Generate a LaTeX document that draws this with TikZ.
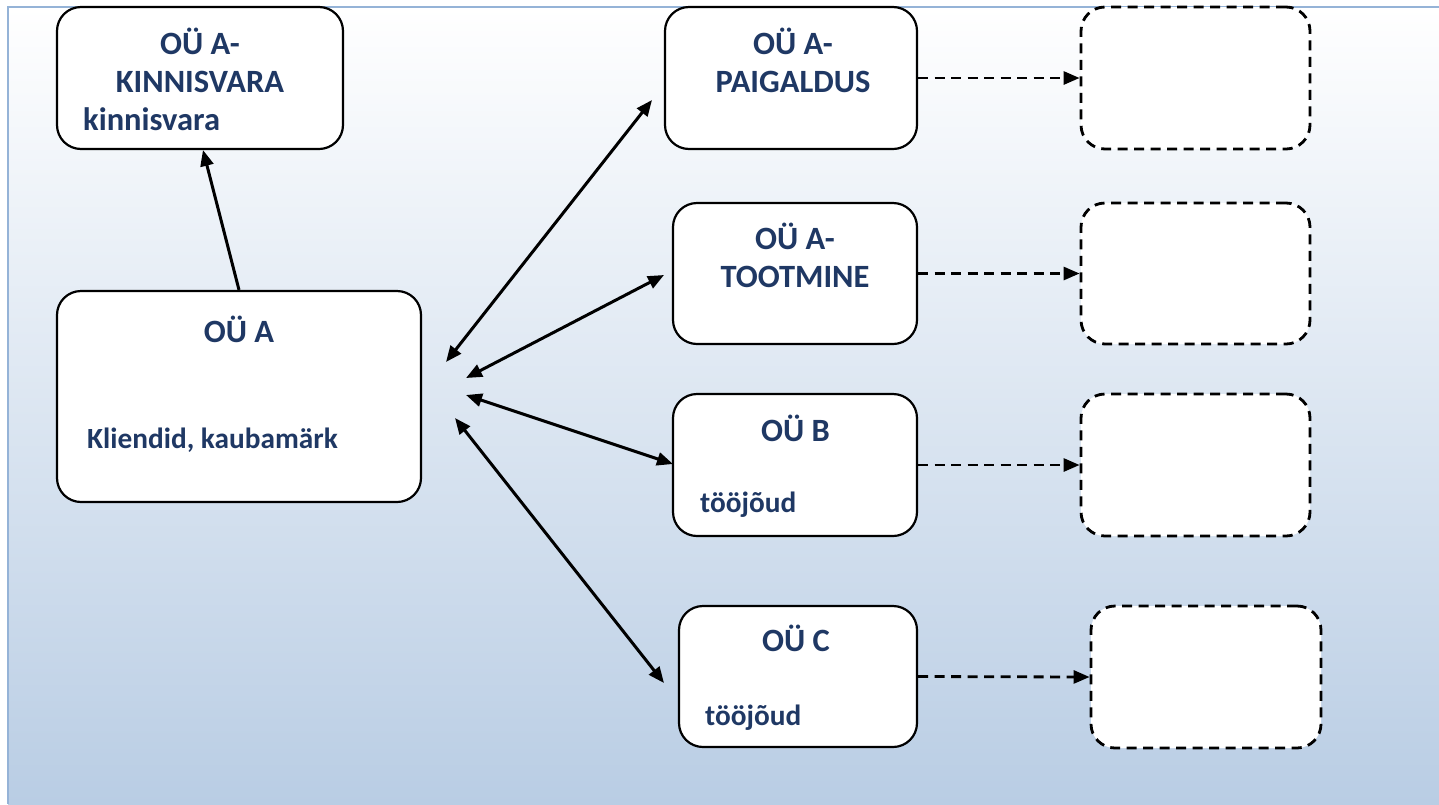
\documentclass[tikz,border=0pt]{standalone}
\usepackage{fontspec}
\setmainfont{Carlito}
\usetikzlibrary{arrows.meta}
\definecolor{txt}{RGB}{31,56,100}
\definecolor{bgbottom}{RGB}{185,205,228}
\definecolor{frame}{RGB}{149,179,215}
\tikzset{
  x=1pt, y=-1pt,
  box/.style={draw=black, line width=2.2pt, rounded corners=24pt, fill=white, inner sep=0pt},
  dbox/.style={draw=black, line width=2.8pt, rounded corners=24pt, fill=white, inner sep=0pt, dash pattern=on 10pt off 6.5pt},
  lbl/.style={text=txt, font=\fontsize{32.5}{38}\selectfont\bfseries, inner sep=0pt, anchor=base},
  lbll/.style={lbl, anchor=base west},
  lbls/.style={lbll, font=\fontsize{29.3}{35}\selectfont\bfseries},
  conn/.style={line width=3pt, -{Triangle[length=16pt,width=13pt]}},
  bconn/.style={line width=3pt, {Triangle[length=16pt,width=13pt]}-{Triangle[length=16pt,width=13pt]}},
  dconn/.style={line width=2.8pt, dash pattern=on 10pt off 6.5pt, -{Triangle[length=16pt,width=13pt]}},
}
\begin{document}
\begin{tikzpicture}
\useasboundingbox (0,0) rectangle (1439,804);
\shade[top color=white, bottom color=bgbottom] (8,7) rectangle (1439,804);
\draw[frame, line width=2.5pt] (8,804) -- (8,7) -- (1439,7);

% boxes
\node[box, minimum width=286pt, minimum height=142pt] (kin) at (200,78) {};
\node[box, minimum width=364pt, minimum height=211pt] (oua) at (239,396.5) {};
\node[box, minimum width=252pt, minimum height=142pt] (pai) at (791,78) {};
\node[box, minimum width=244pt, minimum height=141pt] (toot) at (795,273.5) {};
\node[box, minimum width=244pt, minimum height=142pt] (oub) at (795,465) {};
\node[box, minimum width=238pt, minimum height=141pt] (ouc) at (798,676.5) {};
\node[dbox, minimum width=229pt, minimum height=142pt] (d1) at (1195.5,78) {};
\node[dbox, minimum width=229pt, minimum height=141pt] (d2) at (1195.5,273.5) {};
\node[dbox, minimum width=229pt, minimum height=142pt] (d3) at (1195.5,465) {};
\node[dbox, minimum width=230pt, minimum height=142pt] (d4) at (1206,677) {};

% texts
\node[lbl] (kin1) at (200,54) {OÜ A-};
\node[lbl] (kin2) at (200,92) {KINNISVARA};
\node[lbll] (kin3) at (83,130) {kinnisvara};
\node[lbl] (oua1) at (239,342) {OÜ A};
\node[lbls] (oua2) at (87,448) {Kliendid, kaubamärk};
\node[lbl] (pai1) at (793,54) {OÜ A-};
\node[lbl] (pai2) at (793,92) {PAIGALDUS};
\node[lbl] (toot1) at (795,249.5) {OÜ A-};
\node[lbl] (toot2) at (795,287.5) {TOOTMINE};
\node[lbl] (oub1) at (795.5,441.5) {OÜ B};
\node[lbls] (oub2) at (700,512) {tööjõud};
\node[lbl] (ouc1) at (796,651.5) {OÜ C};
\node[lbls] (ouc2) at (705,725) {tööjõud};

% free ends
\coordinate (p1) at (446,362);
\coordinate (p2) at (466,378);
\coordinate (p3) at (466,395);
\coordinate (p4) at (455,418);
\coordinate (q1) at (652,100);
\coordinate (q2) at (664,275);
\coordinate (q3) at (673,464);
\coordinate (q4) at (664,683);
\coordinate (ks) at (203,150);

% connectors
\draw[conn] (oua.north) -- (ks);
\draw[bconn] (p1) -- (q1);
\draw[bconn] (p2) -- (q2);
\draw[bconn] (p3) -- (q3);
\draw[bconn] (p4) -- (q4);
\draw[dconn] (pai.east) -- (d1.west);
\draw[dconn] (toot.east) -- (d2.west);
\draw[dconn] (oub.east) -- (d3.west);
\draw[dconn] (ouc.east) -- (d4.west);
\end{tikzpicture}
\end{document}
